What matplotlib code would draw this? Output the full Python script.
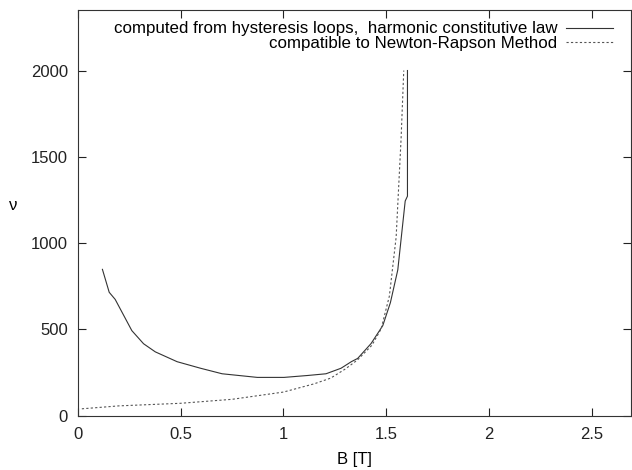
import matplotlib
matplotlib.use('Agg')
import matplotlib.pyplot as plt

# hysteresis loop curve (solid)
b_hyst = [0.12, 0.153, 0.182, 0.263, 0.32, 0.377, 0.483, 0.597, 0.702, 0.873,
          1.003, 1.117, 1.207, 1.28, 1.33, 1.361, 1.426, 1.483, 1.52, 1.556,
          1.592, 1.603, 1.603]
nu_hyst = [848, 715, 674, 493, 417, 370, 313, 275, 243, 222,
           222, 233, 243, 275, 313, 332, 418, 522, 655, 845,
           1244, 1272, 2000]

# Newton-Rapson compatible curve (dotted)
b_nr = [0.02, 0.2, 0.5, 0.75, 1.0, 1.15, 1.23, 1.3, 1.36, 1.43,
        1.475, 1.515, 1.548, 1.572, 1.585]
nu_nr = [40, 57, 72, 95, 137, 185, 218, 270, 323, 408,
         503, 693, 1035, 1605, 2000]

plt.rcParams['font.family'] = ['Liberation Sans', 'DejaVu Sans']

fig = plt.figure(figsize=(6.32, 4.70), dpi=100)
ax = fig.add_axes([0.123, 0.1155, 0.8755, 0.863])

ax.plot(b_hyst, nu_hyst, color='#333333', linewidth=0.8,
        label='computed from hysteresis loops,  harmonic constitutive law')
ax.plot(b_nr, nu_nr, color='#555555', linewidth=0.8, linestyle=(0, (2, 2)),
        label='compatible to Newton-Rapson Method')

ax.set_xlim(0, 2.69)
ax.set_ylim(0, 2350)
ax.set_xticks([0, 0.5, 1, 1.5, 2, 2.5])
ax.set_xticklabels(['0', '0.5', '1', '1.5', '2', '2.5'])
ax.set_yticks([0, 500, 1000, 1500, 2000])
ax.tick_params(direction='in', length=6, width=0.8, labelsize=12,
               top=True, right=True, colors='#222222')
ax.tick_params(axis='x', pad=8)
ax.tick_params(axis='y', pad=7)
for s in ax.spines.values():
    s.set_linewidth(0.8)
    s.set_color('#333333')

ax.set_xlabel('B [T]', fontsize=12, labelpad=7)
ax.set_ylabel('ν', fontsize=12, rotation=0)
ax.yaxis.set_label_coords(-0.117, 0.5)

leg = ax.legend(loc='upper right', bbox_to_anchor=(0.9675, 0.972),
                frameon=False, markerfirst=False, fontsize=12.2,
                handlelength=2.75, labelspacing=-0.05, borderpad=0,
                borderaxespad=0, handletextpad=0.55)
for t in leg.get_texts():
    t.set_ha('right')
leg._legend_box.align = 'right'

fig.savefig('out.png', dpi=100)
